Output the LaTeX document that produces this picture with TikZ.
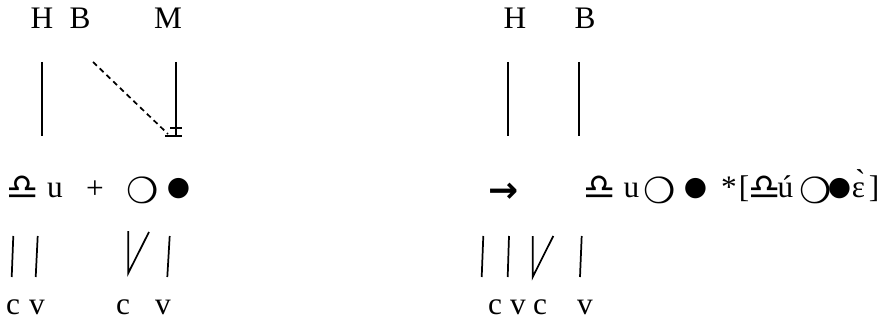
\documentclass[tikz,border=0pt]{standalone}
\usepackage{fontspec}
\setmainfont{Liberation Serif}
\newfontfamily\symfont{DejaVu Sans}
\begin{document}
\begin{tikzpicture}[x=0.75pt,y=-0.75pt,
  txt/.style={inner sep=0pt, anchor=base, font=\fontsize{23.5}{28}\selectfont},
  sym/.style={inner sep=0pt, anchor=center, font=\symfont\fontsize{21}{25}\selectfont},
  libra/.style={sym, font=\symfont\fontsize{27}{30}\selectfont},
  ring/.style={sym, font=\symfont\fontsize{27}{30}\selectfont},
  dot/.style={sym, font=\symfont\fontsize{20}{24}\selectfont},
  assoc/.style={line width=1.3pt},
  delink/.style={line width=1.3pt, dash pattern=on 4pt off 3pt}]
\useasboundingbox (0,0) rectangle (890,321);
% ---- left: tone tier
\node[txt] (H1) at (42,29) {H};
\node[txt] (B1) at (80,29) {B};
\node[txt] (M1) at (168,29) {M};
\coordinate (h1t) at (41.7,62);  \coordinate (h1b) at (41.7,136);
\coordinate (b1t) at (93,62);    \coordinate (b1b) at (168,134);
\coordinate (m1t) at (176,62);   \coordinate (m1b) at (176,136);
\coordinate (x1a) at (170,128);  \coordinate (x1b) at (182,128);
\coordinate (x2a) at (165,136);  \coordinate (x2b) at (182,136);
\draw[assoc] (h1t) -- (h1b);
\draw[delink] (b1t) -- (b1b);
\draw[assoc] (m1t) -- (m1b);
\draw[assoc] (x1a) -- (x1b);
\draw[assoc] (x2a) -- (x2b);
% ---- left: segments
\node[libra] (L1) at (23,187.5) {♎};
\node[txt] (u1) at (55,198) {u};
\node[txt] (plus) at (95,199) {+};
\node[ring] (O1) at (143,190.5) {❍};
\node[dot] (D1) at (178.5,188.5) {●};
% ---- left: skeleton
\coordinate (s1t) at (13.3,236);  \coordinate (s1b) at (11.7,277);
\coordinate (s2t) at (37.7,236);  \coordinate (s2b) at (35.7,277);
\coordinate (s3t) at (128.3,231); \coordinate (s3b) at (128.3,273);
\coordinate (s3s) at (149,232);
\coordinate (s4t) at (169.7,236); \coordinate (s4b) at (167.3,277);
\draw[assoc] (s1t) -- (s1b);
\draw[assoc] (s2t) -- (s2b);
\draw[assoc] (s3t) -- (s3b) -- (s3s);
\draw[assoc] (s4t) -- (s4b);
\node[txt] (c1) at (13,314) {c};
\node[txt] (v1) at (37,314) {v};
\node[txt] (c2) at (123,314) {c};
\node[txt] (v2) at (163,314) {v};
% ---- right: tone tier
\node[txt] (H2) at (515,29) {H};
\node[txt] (B2) at (585,29) {B};
\coordinate (h2t) at (507.7,62); \coordinate (h2b) at (507.7,136);
\coordinate (b2t) at (579.3,62); \coordinate (b2b) at (579.3,136);
\draw[assoc] (h2t) -- (h2b);
\draw[assoc] (b2t) -- (b2b);
% ---- right: segments
\node[sym, font=\symfont\bfseries\fontsize{27}{30}\selectfont] (arr) at (504,193) {→};
\node[libra] (L2) at (600,187.5) {♎};
\node[txt] (u2) at (631.5,198) {u};
\node[ring] (O2) at (660,190.5) {❍};
\node[dot] (D2) at (695.5,188.5) {●};
\node[txt] (star) at (729,198) {*};
\node[txt] (lb) at (744,198) {[};
\node[libra] (L3) at (765,187.5) {♎};
\node[txt] (u3) at (785.5,198) {ú};
\node[ring] (O3) at (815.5,190.5) {❍};
\node[dot] (D3) at (839.5,188.5) {●};
\node[txt] (e3) at (858.5,198) {ɛ̀};
\node[txt] (rb) at (874,198) {]};
% ---- right: skeleton
\coordinate (t1t) at (483.3,236); \coordinate (t1b) at (481.7,277);
\coordinate (t2t) at (509,236);   \coordinate (t2b) at (507.7,277);
\coordinate (t3t) at (532.7,236); \coordinate (t3b) at (532.7,277);
\coordinate (t3s) at (553.3,236);
\coordinate (t4t) at (581.7,236); \coordinate (t4b) at (580,277);
\draw[assoc] (t1t) -- (t1b);
\draw[assoc] (t2t) -- (t2b);
\draw[assoc] (t3t) -- (t3b) -- (t3s);
\draw[assoc] (t4t) -- (t4b);
\node[txt] (c3) at (495,314) {c};
\node[txt] (v3) at (518,314) {v};
\node[txt] (c4) at (540,314) {c};
\node[txt] (v4) at (585,314) {v};
\end{tikzpicture}
\end{document}
